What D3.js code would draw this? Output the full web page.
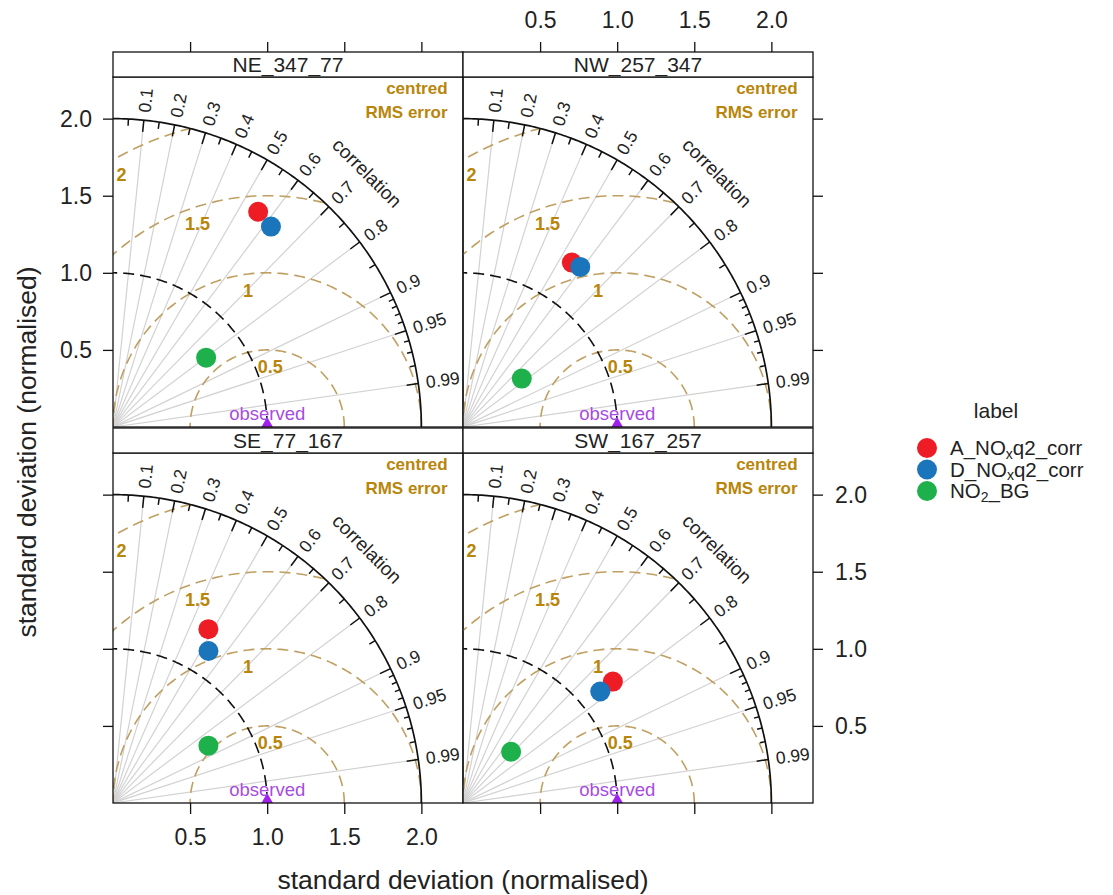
<!DOCTYPE html>
<html><head><meta charset="utf-8">
<script src="https://cdn.jsdelivr.net/npm/d3@7"></script>
<style>
body{margin:0;background:#fff}
text{font-family:"Liberation Sans",Arial,Helvetica,sans-serif}
</style>
</head><body>
<svg id="chart" width="1113" height="895"></svg>
<script>
// ---------------- data ----------------
const panels = ["NE_347_77", "NW_257_347", "SE_77_167", "SW_167_257"];
const seriesNames = ["A_NOxq2_corr", "D_NOxq2_corr", "NO2_BG"];
const seriesColors = ["#ee1c25", "#1b75bb", "#1db04b"];
// normalised standard deviation per panel (order = panels)
const sdA  = [1.684, 1.279, 1.286, 1.251];
const sdD  = [1.655, 1.287, 1.164, 1.147];
const sdBG = [0.753, 0.494, 0.722, 0.456];
// correlation per panel
const corA  = [0.559, 0.552, 0.481, 0.777];
const corD  = [0.619, 0.591, 0.532, 0.776];
const corBG = [0.802, 0.772, 0.857, 0.684];
const corTicks = [0.1, 0.2, 0.3, 0.4, 0.5, 0.6, 0.7, 0.8, 0.9, 0.95, 0.99];
const corMedTicks = [0.05, 0.15, 0.25, 0.35, 0.45, 0.55, 0.65, 0.75, 0.85];
const corSmallTicks = [0.91, 0.92, 0.93, 0.94, 0.96, 0.97, 0.98];
const sdTicks = [0.5, 1.0, 1.5, 2.0];
const rmsLevels = [0.5, 1, 1.5, 2];
const maxSD = 2;
const obsSD = 1;

const seriesSD = [sdA, sdD, sdBG];
const seriesCor = [corA, corD, corBG];

// ---------------- layout ----------------
const svg = d3.select("#chart");
svg.append("rect").attr("width", 1113).attr("height", 895).attr("fill", "#fff");
const W = 350, H = 350, stripH = 25;
const colX = [113, 463], rowY = [77, 453];
const x = d3.scaleLinear().domain([0, 2.27]).range([0, W]);
const y = d3.scaleLinear().domain([0, 2.27]).range([H, 0]);
const line = d3.line().x(d => x(d[0])).y(d => y(d[1]));
const rad = Math.PI / 180;

function arcPts(cx, cy, r, a0, a1) {
  const n = 180;
  return d3.range(n + 1).map(i => {
    const a = a0 + (a1 - a0) * i / n;
    return [cx + r * Math.cos(a), cy + r * Math.sin(a)];
  });
}

const defs = svg.append("defs");
const gold = "#b8860b";

panels.forEach((name, i) => {
  const col = i % 2, row = Math.floor(i / 2);
  const g = svg.append("g").attr("transform", `translate(${colX[col]},${rowY[row]})`);

  // clip: quarter disc of radius maxSD
  const cid = "sector" + i;
  defs.append("clipPath").attr("id", cid)
    .append("path")
    .attr("d", line([[0, 0], ...arcPts(0, 0, maxSD, 0, Math.PI / 2), [0, 0]]));
  const pid = "panel" + i;
  defs.append("clipPath").attr("id", pid)
    .append("rect").attr("width", W).attr("height", H);

  const inner = g.append("g").attr("clip-path", `url(#${pid})`);

  // radial correlation lines
  inner.selectAll("line.rad").data(corTicks).enter().append("line")
    .attr("x1", x(0)).attr("y1", y(0))
    .attr("x2", d => x(maxSD * d)).attr("y2", d => y(maxSD * Math.sqrt(1 - d * d)))
    .attr("stroke", "#d2d2d2").attr("stroke-width", 1.2);

  // RMS circles
  const rmsG = inner.append("g").attr("clip-path", `url(#${cid})`);
  rmsG.selectAll("path").data(rmsLevels).enter().append("path")
    .attr("d", r => line(arcPts(obsSD, 0, r, 0, Math.PI)))
    .attr("fill", "none").attr("stroke", "#c0a062").attr("stroke-width", 1.6)
    .attr("stroke-dasharray", "11,6");

  // RMS labels
  inner.selectAll("text.rms").data(rmsLevels).enter().append("text")
    .attr("x", r => x(obsSD + (r - 0.11) * Math.cos((76 + 22 * r) * rad)))
    .attr("y", r => y((r - 0.11) * Math.sin((76 + 22 * r) * rad)))
    .attr("text-anchor", "middle").attr("dominant-baseline", "central")
    .attr("font-size", 18).attr("font-weight", "bold").attr("fill", gold)
    .text(r => r);

  // observed sd arc (dashed black)
  inner.append("path")
    .attr("d", line(arcPts(0, 0, obsSD, 0, Math.PI / 2)))
    .attr("fill", "none").attr("stroke", "#111").attr("stroke-width", 1.6)
    .attr("stroke-dasharray", "11,6");

  // outer arc
  inner.append("path")
    .attr("d", line(arcPts(0, 0, maxSD, 0, Math.PI / 2)))
    .attr("fill", "none").attr("stroke", "#111").attr("stroke-width", 1.7);

  // correlation ticks
  const tickSets = [[corTicks, 0.962], [corMedTicks, 0.978], [corSmallTicks, 0.983]];
  tickSets.forEach(([ts, f]) => {
    inner.selectAll(null).data(ts).enter().append("line")
      .attr("x1", d => x(maxSD * d)).attr("y1", d => y(maxSD * Math.sqrt(1 - d * d)))
      .attr("x2", d => x(f * maxSD * d)).attr("y2", d => y(f * maxSD * Math.sqrt(1 - d * d)))
      .attr("stroke", "#111").attr("stroke-width", 1.5);
  });

  // correlation labels
  g.selectAll("text.cor").data(corTicks).enter().append("text")
    .attr("transform", d => {
      const r = maxSD * 1.025;
      const px = x(r * d), py = y(r * Math.sqrt(1 - d * d));
      return `translate(${px},${py}) rotate(${-Math.acos(d) / rad})`;
    })
    .attr("dominant-baseline", "central").attr("font-size", 17.5).attr("fill", "#222")
    .text(d => d);

  g.append("text")
    .attr("transform", `translate(${x(2.33 * Math.cos(45 * rad))},${y(2.33 * Math.sin(45 * rad))}) rotate(45)`)
    .attr("text-anchor", "middle").attr("dominant-baseline", "central")
    .attr("font-size", 19).attr("fill", "#222").text("correlation");

  // centred RMS error
  g.append("text").attr("x", x(2.17)).attr("y", y(2.195))
    .attr("text-anchor", "end").attr("dominant-baseline", "central")
    .attr("font-size", 17).attr("font-weight", "bold").attr("fill", gold).text("centred");
  g.append("text").attr("x", x(2.17)).attr("y", y(2.04))
    .attr("text-anchor", "end").attr("dominant-baseline", "central")
    .attr("font-size", 17).attr("font-weight", "bold").attr("fill", gold).text("RMS error");

  // observed
  inner.append("path")
    .attr("d", d3.symbol(d3.symbolTriangle, 130)())
    .attr("transform", `translate(${x(obsSD)},${y(0)})`)
    .attr("fill", "#a020f0");
  inner.append("text").attr("x", x(obsSD)).attr("y", y(0.09))
    .attr("text-anchor", "middle").attr("dominant-baseline", "central")
    .attr("font-size", 18.5).attr("fill", "#a64ce0").text("observed");

  // points
  seriesNames.forEach((s, k) => {
    const sd = seriesSD[k][i], c = seriesCor[k][i];
    inner.append("circle")
      .attr("cx", x(sd * c)).attr("cy", y(sd * Math.sqrt(1 - c * c)))
      .attr("r", 10).attr("fill", seriesColors[k]);
  });

  // panel border
  g.append("rect").attr("width", W).attr("height", H)
    .attr("fill", "none").attr("stroke", "#111").attr("stroke-width", 1.3);

  // strip
  g.append("rect").attr("y", -stripH).attr("width", W).attr("height", stripH)
    .attr("fill", "#fff").attr("stroke", "#111").attr("stroke-width", 1.3);
  g.append("text").attr("x", W / 2).attr("y", -stripH / 2)
    .attr("text-anchor", "middle").attr("dominant-baseline", "central")
    .attr("font-size", 21).attr("fill", "#222").text(name);

  // axes
  const fmt = d3.format(".1f");
  function styleAxis(a) {
    a.select(".domain").remove();
    a.selectAll(".tick line").attr("stroke", "#111").attr("stroke-width", 1.3);
    a.selectAll(".tick text").attr("font-size", 23).attr("fill", "#222")
      .attr("font-family", '"Liberation Sans",Arial,sans-serif');
  }
  if (col === 0) {
    const ax = g.append("g").call(d3.axisLeft(y).tickValues(sdTicks).tickSize(10).tickPadding(11)
      .tickFormat(row === 0 ? fmt : () => ""));
    styleAxis(ax);
  } else {
    const ax = g.append("g").attr("transform", `translate(${W},0)`)
      .call(d3.axisRight(y).tickValues(sdTicks).tickSize(10).tickPadding(12)
      .tickFormat(row === 1 ? fmt : () => ""));
    styleAxis(ax);
  }
  if (row === 0) {
    const ax = g.append("g").attr("transform", `translate(0,${-stripH})`)
      .call(d3.axisTop(x).tickValues(sdTicks).tickSize(10).tickPadding(14)
      .tickFormat(col === 1 ? fmt : () => ""));
    styleAxis(ax);
  } else {
    const ax = g.append("g").attr("transform", `translate(0,${H})`)
      .call(d3.axisBottom(x).tickValues(sdTicks).tickSize(11).tickPadding(15)
      .tickFormat(col === 0 ? fmt : () => ""));
    styleAxis(ax);
  }
});

// axis titles
svg.append("text").attr("x", 463).attr("y", 880)
  .attr("text-anchor", "middle").attr("dominant-baseline", "central")
  .attr("font-size", 26.5).attr("fill", "#222").text("standard deviation (normalised)");
svg.append("text").attr("transform", "translate(27,452) rotate(-90)")
  .attr("text-anchor", "middle").attr("dominant-baseline", "central")
  .attr("font-size", 26.5).attr("fill", "#222").text("standard deviation (normalised)");

// legend
const leg = svg.append("g");
leg.append("text").attr("x", 996).attr("y", 410)
  .attr("text-anchor", "middle").attr("dominant-baseline", "central")
  .attr("font-size", 21).attr("fill", "#222").text("label");
const legendParts = [
  [["A_NO", ""], ["x", "sub"], ["q2_corr", ""]],
  [["D_NO", ""], ["x", "sub"], ["q2_corr", ""]],
  [["NO", ""], ["2", "sub"], ["_BG", ""]]
];
seriesNames.forEach((s, k) => {
  const yy = 448 + k * 21.5;
  leg.append("circle").attr("cx", 927).attr("cy", yy).attr("r", 10).attr("fill", seriesColors[k]);
  const t = leg.append("text").attr("x", 950).attr("y", yy + 7)
    .attr("font-size", 20.5).attr("fill", "#222");
  legendParts[k].forEach(([str, kind], j) => {
    const sp = t.append("tspan").text(str);
    if (kind === "sub") sp.attr("font-size", 14).attr("dy", 3.5);
    else if (j > 0) sp.attr("dy", -3.5);
  });
});
</script>
</body></html>
